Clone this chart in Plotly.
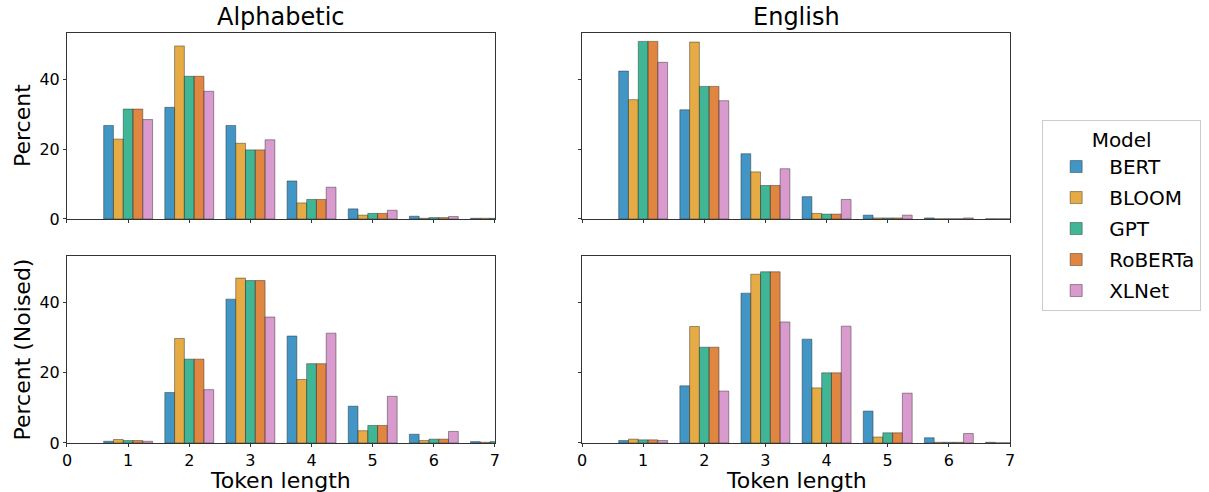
import plotly.graph_objects as go

token_lengths = [1, 2, 3, 4, 5, 6, 7]
models = ["BERT", "BLOOM", "GPT", "RoBERTa", "XLNet"]
colors = ["#0173B2", "#DE8F05", "#029E73", "#D55E00", "#CC78BC"]

# Alphabetic (clean)
alpha_bert = [26.8, 32.0, 26.8, 10.9, 2.9, 0.8, 0.2]
alpha_bloom = [22.9, 49.6, 21.7, 4.6, 1.1, 0.2, 0.2]
alpha_gpt = [31.5, 40.9, 19.8, 5.6, 1.6, 0.4, 0.2]
alpha_roberta = [31.5, 40.9, 19.8, 5.6, 1.6, 0.4, 0.2]
alpha_xlnet = [28.5, 36.6, 22.7, 9.1, 2.5, 0.7, 0.2]

# English (clean)
eng_bert = [42.4, 31.3, 18.7, 6.4, 1.1, 0.3, 0.05]
eng_bloom = [34.2, 50.7, 13.5, 1.6, 0.3, 0.05, 0.05]
eng_gpt = [50.9, 38.0, 9.6, 1.4, 0.3, 0.05, 0.05]
eng_roberta = [50.9, 38.0, 9.6, 1.4, 0.3, 0.05, 0.05]
eng_xlnet = [44.9, 33.9, 14.4, 5.6, 1.1, 0.3, 0.05]

# Alphabetic (noised)
alpha_n_bert = [0.5, 14.4, 41.0, 30.5, 10.5, 2.5, 0.4]
alpha_n_bloom = [1.0, 29.8, 47.0, 18.1, 3.5, 0.7, 0.2]
alpha_n_gpt = [0.7, 23.9, 46.3, 22.6, 5.0, 1.1, 0.4]
alpha_n_roberta = [0.7, 23.9, 46.3, 22.6, 5.0, 1.1, 0.4]
alpha_n_xlnet = [0.5, 15.2, 35.9, 31.3, 13.3, 3.3, 0.4]

# English (noised)
eng_n_bert = [0.7, 16.3, 42.7, 29.6, 9.1, 1.5, 0.2]
eng_n_bloom = [1.1, 33.2, 48.1, 15.7, 1.7, 0.2, 0.05]
eng_n_gpt = [0.9, 27.3, 48.8, 20.0, 2.9, 0.2, 0.05]
eng_n_roberta = [0.9, 27.3, 48.8, 20.0, 2.9, 0.2, 0.05]
eng_n_xlnet = [0.7, 14.8, 34.5, 33.3, 14.2, 2.7, 0.05]

panels = [
    ([alpha_bert, alpha_bloom, alpha_gpt, alpha_roberta, alpha_xlnet], "x", "y"),
    ([eng_bert, eng_bloom, eng_gpt, eng_roberta, eng_xlnet], "x2", "y2"),
    ([alpha_n_bert, alpha_n_bloom, alpha_n_gpt, alpha_n_roberta, alpha_n_xlnet], "x3", "y3"),
    ([eng_n_bert, eng_n_bloom, eng_n_gpt, eng_n_roberta, eng_n_xlnet], "x4", "y4"),
]

x_ticks = [0, 1, 2, 3, 4, 5, 6, 7]
y_ticks = [0, 20, 40]


def rgba(hexc, a):
    h = hexc.lstrip("#")
    r, g, b = int(h[0:2], 16), int(h[2:4], 16), int(h[4:6], 16)
    return f"rgba({r},{g},{b},{a})"


fig = go.Figure()
for pi, (series, xa, ya) in enumerate(panels):
    for mi, (name, vals) in enumerate(zip(models, series)):
        fig.add_trace(go.Bar(
            x=token_lengths, y=vals, name=name,
            xaxis=xa, yaxis=ya,
            offsetgroup=name,
            legendgroup=name, showlegend=(pi == 0),
            marker=dict(color=rgba(colors[mi], 0.75),
                        line=dict(color="rgba(40,40,40,0.45)", width=1)),
        ))

FONT = "DejaVu Sans"
xd = [[0.0554, 0.4094], [0.4814, 0.8354]]
yd = [[0.5549, 0.9329], [0.0996, 0.4797]]

axis_common = dict(showline=True, linecolor="#333333", linewidth=1, mirror=True,
                   ticks="outside", ticklen=3, tickcolor="#333333",
                   showgrid=False, zeroline=False, automargin=False,
                   tickfont=dict(family=FONT, size=16, color="black"))

layout = dict(
    width=1209, height=492,
    margin=dict(l=0, r=0, t=0, b=0, autoexpand=False),
    paper_bgcolor="white", plot_bgcolor="white",
    barmode="group", bargap=0.2, bargroupgap=0,
    font=dict(family=FONT, color="black"),
    legend=dict(
        title=dict(text="Model", font=dict(family=FONT, size=20), side="top center"),
        font=dict(family=FONT, size=20),
        x=0.862, y=0.756, xanchor="left", yanchor="top",
        bordercolor="#cccccc", borderwidth=1, bgcolor="white",
        itemwidth=56, tracegroupgap=2,
    ),
)

for i in range(4):
    r, c = divmod(i, 2)
    sfx = "" if i == 0 else str(i + 1)
    layout["xaxis" + sfx] = dict(axis_common, domain=xd[c], range=[0, 7],
                                 tickvals=x_ticks, showticklabels=(r == 1),
                                 anchor="y" + sfx)
    layout["yaxis" + sfx] = dict(axis_common, domain=yd[r], range=[0, 53.3],
                                 tickvals=y_ticks, showticklabels=(c == 0),
                                 anchor="x" + sfx)

fig.update_layout(**layout)

annots = [
    dict(text="Alphabetic", x=sum(xd[0]) / 2, y=0.9329, yanchor="bottom", yshift=0, size=24),
    dict(text="English", x=sum(xd[1]) / 2, y=0.9329, yanchor="bottom", yshift=0, size=24),
    dict(text="Token length", x=sum(xd[0]) / 2, y=0.0, yanchor="bottom", yshift=-3, size=22),
    dict(text="Token length", x=sum(xd[1]) / 2, y=0.0, yanchor="bottom", yshift=-3, size=22),
]
for a in annots:
    fig.add_annotation(text=a["text"], x=a["x"], y=a["y"], xref="paper", yref="paper",
                       xanchor="center", yanchor=a["yanchor"], yshift=a["yshift"],
                       showarrow=False, font=dict(family=FONT, size=a["size"], color="black"))

fig.add_annotation(text="Percent", x=22 / 1209, y=sum(yd[0]) / 2, xref="paper", yref="paper",
                   textangle=-90, showarrow=False, xanchor="center", yanchor="middle",
                   font=dict(family=FONT, size=22, color="black"))
fig.add_annotation(text="Percent (Noised)", x=22 / 1209, y=sum(yd[1]) / 2, xref="paper", yref="paper",
                   textangle=-90, showarrow=False, xanchor="center", yanchor="middle",
                   font=dict(family=FONT, size=22, color="black"))

fig.write_html("out.html", config={"displayModeBar": False},
               post_script="document.body.style.margin='0';")
